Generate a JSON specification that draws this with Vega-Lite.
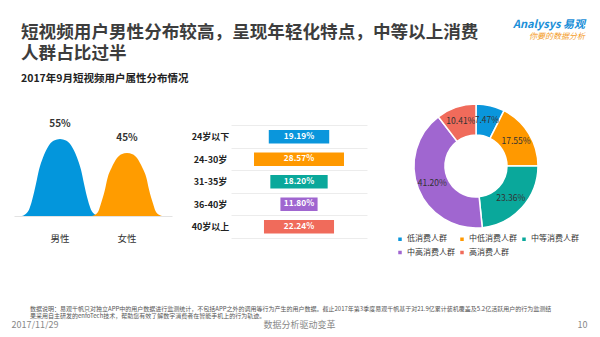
{
  "$schema": "https://vega.github.io/schema/vega-lite/v6.json",
  "background": "white",
  "padding": {"left": 8, "top": 19, "right": 0, "bottom": 0},
  "bounds": "full",
  "spacing": 48,
  "datasets": {
    "curves": [
      {"gender": "男性", "x": 8, "y": 0}, {"gender": "男性", "x": 11, "y": 1.1}, {"gender": "男性", "x": 15, "y": 4.4},
      {"gender": "男性", "x": 18, "y": 11}, {"gender": "男性", "x": 22, "y": 23.1}, {"gender": "男性", "x": 25, "y": 33},
      {"gender": "男性", "x": 29, "y": 41.8}, {"gender": "男性", "x": 35, "y": 50.6}, {"gender": "男性", "x": 40, "y": 53.9},
      {"gender": "男性", "x": 46, "y": 55}, {"gender": "男性", "x": 52, "y": 53.9}, {"gender": "男性", "x": 57, "y": 50.6},
      {"gender": "男性", "x": 63, "y": 41.8}, {"gender": "男性", "x": 67, "y": 33}, {"gender": "男性", "x": 70, "y": 23.1},
      {"gender": "男性", "x": 74, "y": 11}, {"gender": "男性", "x": 77, "y": 4.4}, {"gender": "男性", "x": 81, "y": 1.1},
      {"gender": "男性", "x": 84, "y": 0},
      {"gender": "女性", "x": 78, "y": 0}, {"gender": "女性", "x": 81, "y": 0.9}, {"gender": "女性", "x": 84.5, "y": 3.6},
      {"gender": "女性", "x": 87, "y": 9}, {"gender": "女性", "x": 91, "y": 18.9}, {"gender": "女性", "x": 93.5, "y": 27},
      {"gender": "女性", "x": 97.5, "y": 34.2}, {"gender": "女性", "x": 103, "y": 41.4}, {"gender": "女性", "x": 107.5, "y": 44.1},
      {"gender": "女性", "x": 113, "y": 45}, {"gender": "女性", "x": 118.5, "y": 44.1}, {"gender": "女性", "x": 123, "y": 41.4},
      {"gender": "女性", "x": 128.5, "y": 34.2}, {"gender": "女性", "x": 132.5, "y": 27}, {"gender": "女性", "x": 135, "y": 18.9},
      {"gender": "女性", "x": 139, "y": 9}, {"gender": "女性", "x": 141.5, "y": 3.6}, {"gender": "女性", "x": 145, "y": 0.9},
      {"gender": "女性", "x": 148, "y": 0}
    ],
    "gender": [
      {"gender": "男性", "center": 46, "share": 55, "pct": "55%"},
      {"gender": "女性", "center": 113, "share": 45, "pct": "45%"}
    ],
    "age": [
      {"age": "24岁以下", "share": 19.19, "label": "19.19%"},
      {"age": "24-30岁", "share": 28.57, "label": "28.57%"},
      {"age": "31-35岁", "share": 18.20, "label": "18.20%"},
      {"age": "36-40岁", "share": 11.80, "label": "11.80%"},
      {"age": "40岁以上", "share": 22.24, "label": "22.24%"}
    ],
    "consumption": [
      {"segment": "低消费人群", "share": 7.47, "label": "7.47%", "ord": 1},
      {"segment": "中低消费人群", "share": 17.55, "label": "17.55%", "ord": 2},
      {"segment": "中等消费人群", "share": 23.36, "label": "23.36%", "ord": 3},
      {"segment": "中高消费人群", "share": 41.20, "label": "41.20%", "ord": 4},
      {"segment": "高消费人群", "share": 10.41, "label": "10.41%", "ord": 5}
    ],
    "footer": [
      {"item": "2017/11/29"},
      {"item": "数据分析驱动变革"},
      {"item": "10"}
    ]
  },
  "vconcat": [
    {
      "bounds": "flush",
      "spacing": 29,
      "resolve": {"scale": {"color": "independent"}, "legend": {"color": "independent"}},
      "hconcat": [
        {
          "width": 191,
          "height": 114,
          "title": {
            "text": ["短视频用户男性分布较高，呈现年轻化特点，中等以上消费", "人群占比过半"],
            "subtitle": "2017年9月短视频用户属性分布情况",
            "anchor": "start",
            "frame": "group",
            "dx": 10,
            "offset": 18,
            "fontSize": 17.6,
            "fontWeight": "bold",
            "color": "#3d3d3d",
            "lineHeight": 21,
            "subtitleFontSize": 10.5,
            "subtitleFontWeight": "bold",
            "subtitleColor": "#222222",
            "subtitlePadding": 11
          },
          "layer": [
            {
              "data": {"name": "curves"},
              "transform": [{"filter": "datum.gender === '男性'"}],
              "mark": {"type": "area", "interpolate": "monotone"},
              "encoding": {
                "x": {"field": "x", "type": "quantitative", "scale": {"domain": [0, 158], "range": [3, 161], "nice": false, "zero": false},
                      "axis": {"domain": true, "domainColor": "#e3e3e3", "domainWidth": 1, "labels": false, "ticks": false, "grid": false, "title": null}},
                "y": {"field": "y", "type": "quantitative", "stack": null, "scale": {"domain": [0, 81.4], "nice": false}, "axis": null},
                "color": {"field": "gender", "type": "nominal", "scale": {"domain": ["男性", "女性"], "range": ["#0396dc", "#ff9c00"]}, "legend": null}
              }
            },
            {
              "data": {"name": "curves"},
              "transform": [{"filter": "datum.gender === '女性'"}],
              "mark": {"type": "area", "interpolate": "monotone"},
              "encoding": {
                "x": {"field": "x", "type": "quantitative",
                      "axis": {"domain": true, "domainColor": "#e3e3e3", "domainWidth": 1, "labels": false, "ticks": false, "grid": false, "title": null}},
                "y": {"field": "y", "type": "quantitative", "stack": null, "axis": null},
                "color": {"field": "gender", "type": "nominal", "legend": null}
              }
            },
            {
              "data": {"name": "gender"},
              "mark": {"type": "text", "dy": -15, "fontSize": 10, "fontWeight": "bold", "color": "#333333"},
              "encoding": {
                "x": {"field": "center", "type": "quantitative",
                      "axis": {"domain": true, "domainColor": "#e3e3e3", "domainWidth": 1, "labels": false, "ticks": false, "grid": false, "title": null}},
                "y": {"field": "share", "type": "quantitative", "axis": null},
                "text": {"field": "pct"}
              }
            },
            {
              "data": {"name": "gender"},
              "mark": {"type": "text", "dy": 23, "fontSize": 9.5, "color": "#333333"},
              "encoding": {
                "x": {"field": "center", "type": "quantitative",
                      "axis": {"domain": true, "domainColor": "#e3e3e3", "domainWidth": 1, "labels": false, "ticks": false, "grid": false, "title": null}},
                "y": {"datum": 0},
                "text": {"field": "gender"}
              }
            }
          ]
        },
        {
          "width": 136,
          "height": 136,
          "data": {"name": "age"},
          "encoding": {
            "y": {"field": "age", "type": "nominal", "sort": null,
                  "scale": {"type": "band", "paddingInner": 0, "paddingOuter": 0.522, "align": 1},
                  "axis": {"domain": false, "ticks": false, "title": null, "grid": true, "gridColor": "#ececec", "tickBand": "extent",
                           "labelAlign": "center", "labelPadding": 21, "labelFontSize": 9, "labelFontWeight": "bold", "labelColor": "#222222"}}
          },
          "layer": [
            {
              "mark": {"type": "bar", "height": {"band": 0.59}},
              "encoding": {
                "x": {"field": "share", "type": "quantitative", "stack": "center", "scale": {"domain": [-7.305, 35.875], "nice": false, "zero": false}, "axis": null},
                "color": {"field": "age", "type": "nominal", "sort": null, "scale": {"range": ["#0a96dc", "#ff9900", "#0aa89b", "#a066d0", "#f06b5b"]}, "legend": null}
              }
            },
            {
              "mark": {"type": "text", "color": "white", "fontWeight": "bold", "fontSize": 8.3},
              "encoding": {
                "text": {"field": "label"}
              }
            }
          ]
        },
        {
          "width": 160,
          "height": 128,
          "data": {"name": "consumption"},
          "title": {
            "text": "Analysys 易观",
            "subtitle": "你要的数据分析",
            "anchor": "end",
            "frame": "group",
            "dx": 29,
            "offset": 60,
            "fontSize": 11,
            "fontStyle": "italic",
            "fontWeight": "bold",
            "color": "#1a8fd8",
            "subtitleFontSize": 8,
            "subtitleFontStyle": "italic",
            "subtitleColor": "#f39a1e",
            "subtitlePadding": 3
          },
          "encoding": {
            "theta": {"field": "share", "type": "quantitative", "stack": true},
            "order": {"field": "ord", "type": "quantitative"},
            "color": {"field": "segment", "type": "nominal", "sort": null,
                      "scale": {"domain": ["低消费人群", "中低消费人群", "中等消费人群", "中高消费人群", "高消费人群"],
                                "range": ["#0a96dc", "#ff9900", "#0aa89b", "#a066d0", "#f06b5b"]},
                      "legend": {"orient": "bottom", "direction": "horizontal", "columns": 3, "title": null, "symbolType": "square",
                                 "symbolSize": 25, "labelFontSize": 8, "labelColor": "#333333", "columnPadding": 1, "rowPadding": 1.5,
                                 "offset": 5, "labelOffset": 3, "padding": 0}}
          },
          "layer": [
            {"mark": {"type": "arc", "outerRadius": 62, "innerRadius": 31, "stroke": "white", "strokeWidth": 1.5}},
            {
              "mark": {"type": "text", "radius": 47, "fontSize": 8.5},
              "encoding": {"text": {"field": "label"}, "color": {"value": "#333333"}}
            }
          ]
        }
      ]
    },
    {
      "width": 576,
      "height": 1,
      "data": {"name": "footer"},
      "title": {
        "text": ["数据说明：易观千帆只对独立APP中的用户数据进行监测统计，不包括APP之外的调用等行为产生的用户数据。截止2017年第3季度易观千帆基于对21.9亿累计装机覆盖及5.2亿活跃用户的行为监测结", "果采用自主研发的enfoTech技术，帮助您有效了解数字消费者在智能手机上的行为轨迹。"],
        "anchor": "start",
        "frame": "group",
        "dx": 19,
        "offset": -4,
        "fontSize": 6,
        "fontWeight": "normal",
        "color": "#555555",
        "lineHeight": 6.6
      },
      "mark": {"type": "point", "opacity": 0},
      "encoding": {
        "x": {"field": "item", "type": "nominal", "sort": null, "scale": {"type": "point", "padding": 0},
              "axis": {"orient": "bottom", "domain": false, "ticks": false, "labelFlush": true, "labelFontSize": 9, "labelColor": "#888888",
                       "labelPadding": 2, "labelAngle": 0, "title": null}}
      }
    }
  ],
  "config": {
    "font": "Noto Sans CJK SC",
    "view": {"stroke": null}
  }
}
